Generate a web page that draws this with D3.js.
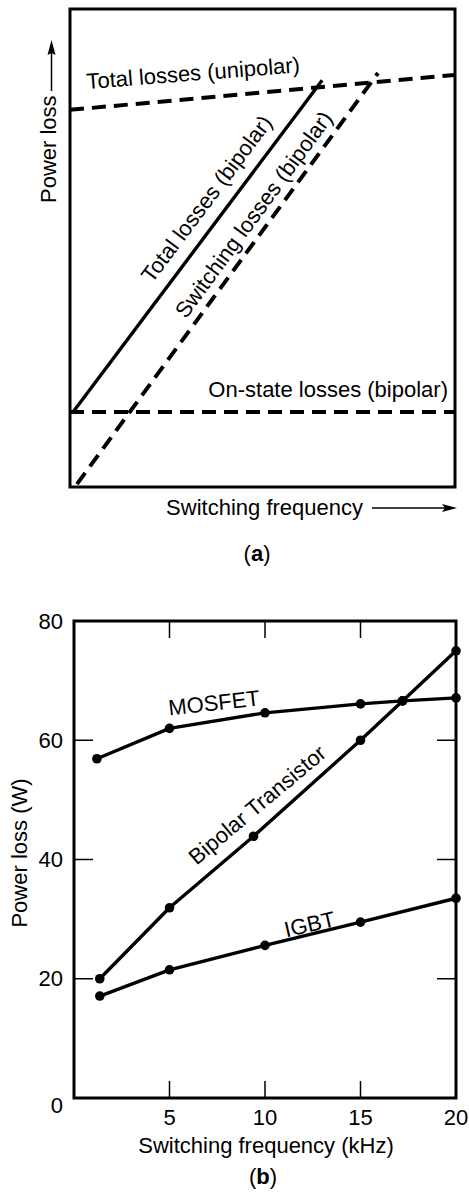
<!DOCTYPE html>
<html>
<head>
<meta charset="utf-8">
<script src="https://cdn.jsdelivr.net/npm/d3@7"></script>
<style>
  html, body { margin: 0; padding: 0; background: #fff; }
  svg { display: block; }
  text { font-family: "Liberation Sans", Arial, Helvetica, sans-serif; fill: #000; }
</style>
</head>
<body>
<div id="chart"></div>
<script>
// ---------- Panel (a): conceptual curves (arbitrary units 0..100) ----------
const unipolarTotalX = [0, 100];
const unipolarTotalY = [78.9, 86.2];
const onStateX = [0, 100];
const onStateY = [15.7, 15.7];
const bipolarTotalX = [0.8, 65.5];
const bipolarTotalY = [15.7, 85.1];
const bipolarSwitchX = [1.8, 80];
const bipolarSwitchY = [0.6, 86.6];

// ---------- Panel (b): measured power loss vs switching frequency ----------
const mosfetFreq = [1.2, 5, 10, 15, 17.2, 20];
const mosfetLoss = [56.9, 62, 64.6, 66.1, 66.6, 67.1];
const bipolarFreq = [1.35, 5, 9.4, 15, 17.2, 20];
const bipolarLoss = [20, 31.9, 43.9, 60, 66.6, 75];
const igbtFreq = [1.35, 5, 10, 15, 20];
const igbtLoss = [17.1, 21.5, 25.6, 29.5, 33.5];

const xTickValues = [5, 10, 15, 20];
const yTickValues = [0, 20, 40, 60, 80];
const innerXTicks = [5, 10, 15];
const innerYTicks = [20, 40, 60];

const W = 469, H = 1193;
const FONT = 22;
const svg = d3.select("#chart").append("svg").attr("width", W).attr("height", H);
svg.append("rect").attr("width", W).attr("height", H).attr("fill", "#fff");

const zip = (xs, ys) => xs.map((x, i) => ({x, y: ys[i]}));

// ================= Panel (a) =================
const ax = d3.scaleLinear().domain([0, 100]).range([70, 455]);
const ay = d3.scaleLinear().domain([0, 100]).range([487, 9]);
const ga = svg.append("g");
const lineA = d3.line().x(d => ax(d.x)).y(d => ay(d.y));

const seriesA = [
  {pts: zip(unipolarTotalX, unipolarTotalY), dash: "14,8", w: 4},
  {pts: zip(onStateX, onStateY), dash: "14,8", w: 4},
  {pts: zip(bipolarTotalX, bipolarTotalY), dash: null, w: 3.4},
  {pts: zip(bipolarSwitchX, bipolarSwitchY), dash: "14,8", w: 4}
];
seriesA.forEach(s => {
  ga.append("path").datum(s.pts).attr("d", lineA)
    .attr("fill", "none").attr("stroke", "#000").attr("stroke-width", s.w)
    .attr("stroke-dasharray", s.dash);
});
ga.append("rect").attr("x", ax(0)).attr("y", ay(100))
  .attr("width", ax(100) - ax(0)).attr("height", ay(0) - ay(100))
  .attr("fill", "none").attr("stroke", "#000").attr("stroke-width", 3);

// label along a line: t = fraction along, d = perpendicular offset (px, upper-left side)
function labelAlong(g, pts, sx, sy, t, d, txt) {
  const x0 = sx(pts[0].x), y0 = sy(pts[0].y), x1 = sx(pts[1].x), y1 = sy(pts[1].y);
  const len = Math.hypot(x1 - x0, y1 - y0);
  const ux = (x1 - x0) / len, uy = (y1 - y0) / len;
  const nx = uy, ny = -ux;
  const px = x0 + ux * len * t + nx * d, py = y0 + uy * len * t + ny * d;
  const ang = Math.atan2(y1 - y0, x1 - x0) * 180 / Math.PI;
  g.append("text").attr("transform", `translate(${px},${py}) rotate(${ang})`)
    .attr("text-anchor", "middle").attr("font-size", FONT).text(txt);
}
labelAlong(ga, seriesA[2].pts, ax, ay, 0.604, 13.6, "Total losses (bipolar)");
labelAlong(ga, seriesA[3].pts, ax, ay, 0.632, 9.2, "Switching losses (bipolar)");

ga.append("text").attr("transform", "translate(87,89) rotate(-4.5)")
  .attr("font-size", FONT).text("Total losses (unipolar)");
ga.append("text").attr("x", 448).attr("y", 397).attr("text-anchor", "end")
  .attr("font-size", FONT).text("On-state losses (bipolar)");

// axis captions with arrows
ga.append("text").attr("transform", "translate(56,203) rotate(-90)")
  .attr("font-size", FONT).text("Power loss");
ga.append("line").attr("x1", 51.5).attr("x2", 51.5).attr("y1", 91).attr("y2", 50)
  .attr("stroke", "#000").attr("stroke-width", 1.5);
ga.append("path").attr("d", "M51.5,40 L47.5,55 L51.5,53 L55.5,55 Z").attr("fill", "#000");

ga.append("text").attr("x", 363).attr("y", 515).attr("text-anchor", "end")
  .attr("font-size", FONT).text("Switching frequency");
ga.append("line").attr("x1", 372).attr("x2", 448).attr("y1", 508).attr("y2", 508)
  .attr("stroke", "#000").attr("stroke-width", 1.5);
ga.append("path").attr("d", "M457,508 L442,504 L445,508 L442,512 Z").attr("fill", "#000");

const capA = ga.append("text").attr("x", 257).attr("y", 561).attr("text-anchor", "middle")
  .attr("font-size", FONT);
capA.append("tspan").text("(");
capA.append("tspan").attr("font-weight", "bold").text("a");
capA.append("tspan").text(")");

// ================= Panel (b) =================
const bx = d3.scaleLinear().domain([0, 20]).range([74, 456]);
const by = d3.scaleLinear().domain([0, 80]).range([1098, 621]);
const gb = svg.append("g");

const tickLen = 17;
innerXTicks.forEach(v => {
  gb.append("line").attr("x1", bx(v)).attr("x2", bx(v)).attr("y1", by(80)).attr("y2", by(80) + tickLen)
    .attr("stroke", "#000").attr("stroke-width", 1.5);
  gb.append("line").attr("x1", bx(v)).attr("x2", bx(v)).attr("y1", by(0)).attr("y2", by(0) - tickLen)
    .attr("stroke", "#000").attr("stroke-width", 1.5);
});
innerYTicks.forEach(v => {
  gb.append("line").attr("x1", bx(0)).attr("x2", bx(0) + tickLen + 2).attr("y1", by(v)).attr("y2", by(v))
    .attr("stroke", "#000").attr("stroke-width", 1.5);
  gb.append("line").attr("x1", bx(20)).attr("x2", bx(20) - tickLen - 2).attr("y1", by(v)).attr("y2", by(v))
    .attr("stroke", "#000").attr("stroke-width", 1.5);
});

const lineB = d3.line().x(d => bx(d.x)).y(d => by(d.y));
const seriesB = [
  zip(mosfetFreq, mosfetLoss),
  zip(bipolarFreq, bipolarLoss),
  zip(igbtFreq, igbtLoss)
];
seriesB.forEach(pts => {
  gb.append("path").datum(pts).attr("d", lineB)
    .attr("fill", "none").attr("stroke", "#000").attr("stroke-width", 3.4)
    .attr("stroke-linejoin", "round");
});
gb.append("rect").attr("x", bx(0)).attr("y", by(80))
  .attr("width", bx(20) - bx(0)).attr("height", by(0) - by(80))
  .attr("fill", "none").attr("stroke", "#000").attr("stroke-width", 3);
seriesB.forEach(pts => {
  gb.selectAll(null).data(pts).enter().append("circle")
    .attr("cx", d => bx(d.x)).attr("cy", d => by(d.y)).attr("r", 4.8).attr("fill", "#000");
});

gb.selectAll(null).data(yTickValues).enter().append("text")
  .attr("x", 63).attr("y", d => by(d) + (d === 0 ? 7 : 0))
  .attr("dy", "0.35em").attr("text-anchor", "end").attr("font-size", FONT)
  .text(d => d);
gb.selectAll(null).data(xTickValues).enter().append("text")
  .attr("x", d => bx(d)).attr("y", 1125).attr("text-anchor", "middle").attr("font-size", FONT)
  .text(d => d);

function labelAt(g, xv, yv, ang, txt) {
  g.append("text").attr("transform", `translate(${bx(xv)},${by(yv)}) rotate(${ang})`)
    .attr("text-anchor", "middle").attr("font-size", FONT).text(txt);
}
labelAt(gb, 7.37, 65.0, -6.4, "MOSFET");
labelAt(gb, 9.85, 48.2, -40, "Bipolar Transistor");
labelAt(gb, 12.42, 27.9, -13, "IGBT");

gb.append("text").attr("transform", "translate(27,853) rotate(-90)")
  .attr("text-anchor", "middle").attr("font-size", FONT).text("Power loss (W)");
gb.append("text").attr("x", 266).attr("y", 1153).attr("text-anchor", "middle")
  .attr("font-size", FONT).text("Switching frequency (kHz)");
const capB = gb.append("text").attr("x", 263).attr("y", 1184).attr("text-anchor", "middle")
  .attr("font-size", FONT);
capB.append("tspan").text("(");
capB.append("tspan").attr("font-weight", "bold").text("b");
capB.append("tspan").text(")");
</script>
</body>
</html>
